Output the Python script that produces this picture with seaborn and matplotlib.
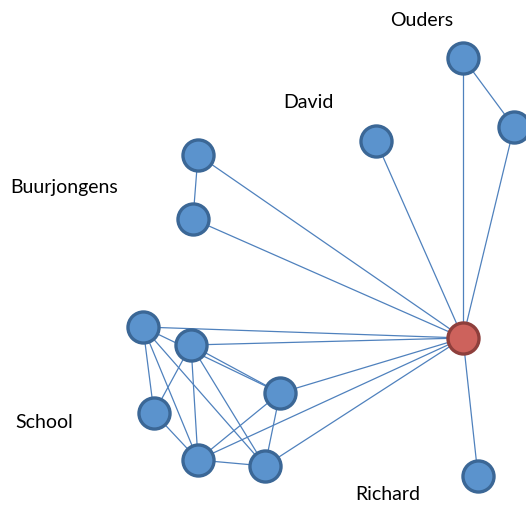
"""
Netwerk van contacten: ego (rood) met groepen Ouders, David, Buurjongens, School, Richard.
"""

import matplotlib
matplotlib.use("Agg")
import matplotlib.pyplot as plt
import pandas as pd
import seaborn as sns

# node positions (pixel coordinates, y downwards)
node_ids = ["ego", "ouder1", "ouder2", "david", "buur1", "buur2",
            "s1", "s2", "s3", "s4", "s5", "s6", "richard"]
node_x = [463, 463, 514, 376, 198, 193, 143, 191, 280, 154, 198, 265, 478]
node_y = [339, 59, 128, 142, 156, 220, 328, 346, 394, 414, 461, 467, 477]
node_role = ["ego"] + ["alter"] * 12

edge_src = ["ego", "ego", "ego", "ego", "ego", "ego", "ego", "ego", "ego", "ego", "ego",
            "ouder1", "buur1",
            "s1", "s1", "s1", "s1", "s2", "s2", "s2", "s2", "s3", "s3", "s4", "s5"]
edge_dst = ["ouder1", "ouder2", "david", "buur1", "buur2", "s1", "s2", "s3", "s5", "s6", "richard",
            "ouder2", "buur2",
            "s4", "s3", "s5", "s6", "s3", "s4", "s5", "s6", "s5", "s6", "s5", "s6"]

group_labels = ["Ouders", "David", "Buurjongens", "School", "Richard"]
label_x = [422, 308, 64, 44, 388]
label_y = [20, 102, 187, 423, 495]

nodes = pd.DataFrame({"id": node_ids, "x": node_x, "y": node_y, "role": node_role})
pos = nodes.set_index("id")

fig = plt.figure(figsize=(5.26, 5.06), dpi=100)
ax = fig.add_axes([0, 0, 1, 1])

for a, b in zip(edge_src, edge_dst):
    ax.plot([pos.loc[a, "x"], pos.loc[b, "x"]], [pos.loc[a, "y"], pos.loc[b, "y"]],
            color="#4F81BD", lw=0.9, zorder=1)

alters = nodes[nodes["role"] == "alter"]
ego = nodes[nodes["role"] == "ego"]
sns.scatterplot(data=alters, x="x", y="y", ax=ax, s=500, color="#5B93CD",
                edgecolor="#3B6796", linewidth=2.4, zorder=3, legend=False)
sns.scatterplot(data=ego, x="x", y="y", ax=ax, s=500, color="#CD625C",
                edgecolor="#8E3F3C", linewidth=2.4, zorder=3, legend=False)

for txt, lx, ly in zip(group_labels, label_x, label_y):
    ax.text(lx, ly, txt, ha="center", va="center", fontsize=14, family="Lato", color="black")

ax.set_xlim(0, 526)
ax.set_ylim(506, 0)
ax.axis("off")

fig.savefig("out.png", dpi=100)
